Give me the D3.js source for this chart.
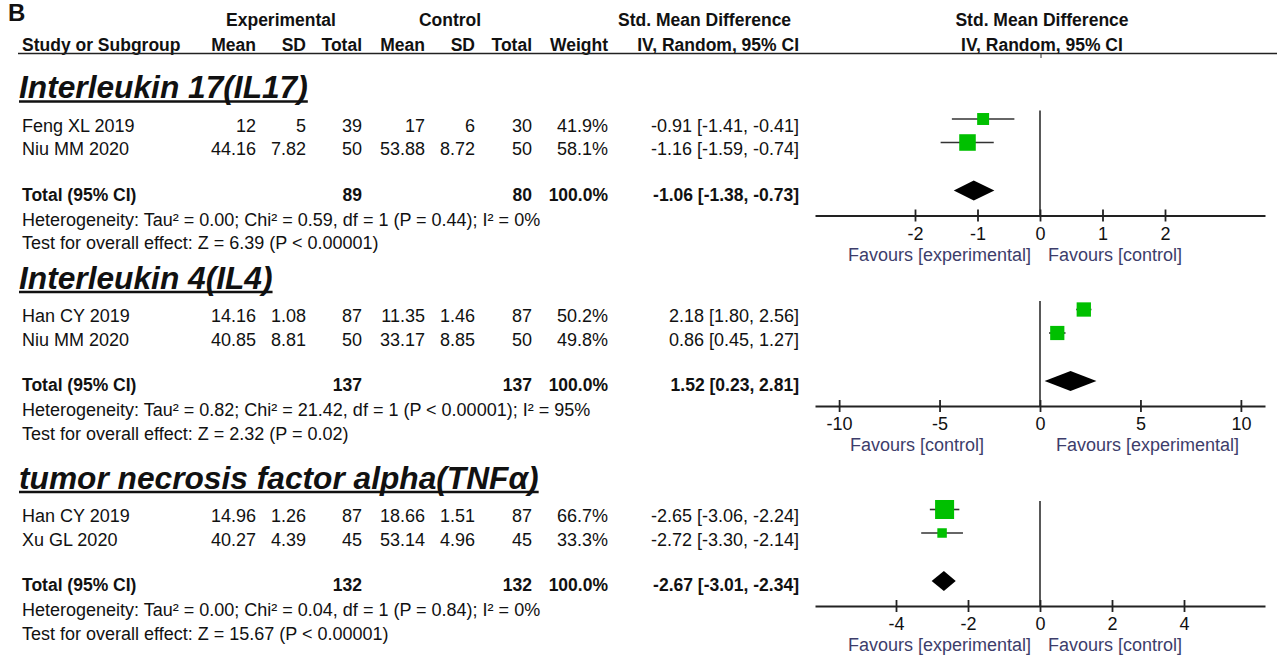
<!DOCTYPE html>
<html>
<head>
<meta charset="utf-8">
<script src="https://cdn.jsdelivr.net/npm/d3@7"></script>
<style>
  html, body { margin: 0; padding: 0; background: #fff; }
  svg { display: block; font-family: "Liberation Sans", Arial, sans-serif; }
</style>
</head>
<body>
<svg id="chart" width="1277" height="655"></svg>
<script>
// ---- Data: three cytokine subgroups, two studies each ----
const subgroups = ["Interleukin 17(IL17)", "Interleukin 4(IL4)", "tumor necrosis factor alpha(TNFα)"];
const studyNames = [["Feng XL 2019", "Niu MM 2020"], ["Han CY 2019", "Niu MM 2020"], ["Han CY 2019", "Xu GL 2020"]];
const expMean = [[12, 44.16], [14.16, 40.85], [14.96, 40.27]];
const expSD   = [[5, 7.82], [1.08, 8.81], [1.26, 4.39]];
const expN    = [[39, 50], [87, 50], [87, 45]];
const ctlMean = [[17, 53.88], [11.35, 33.17], [18.66, 53.14]];
const ctlSD   = [[6, 8.72], [1.46, 8.85], [1.51, 4.96]];
const ctlN    = [[30, 50], [87, 50], [87, 45]];
const weights = [[41.9, 58.1], [50.2, 49.8], [66.7, 33.3]];
const smd     = [[-0.91, -1.16], [2.18, 0.86], [-2.65, -2.72]];
const smdLow  = [[-1.41, -1.59], [1.80, 0.45], [-3.06, -3.30]];
const smdHigh = [[-0.41, -0.74], [2.56, 1.27], [-2.24, -2.14]];

const totalExpN  = [89, 137, 132];
const totalCtlN  = [80, 137, 132];
const totalSmd   = [-1.06, 1.52, -2.67];
const totalLow   = [-1.38, 0.23, -3.01];
const totalHigh  = [-0.73, 2.81, -2.34];

const heterogeneity = [
  "Heterogeneity: Tau² = 0.00; Chi² = 0.59, df = 1 (P = 0.44); I² = 0%",
  "Heterogeneity: Tau² = 0.82; Chi² = 21.42, df = 1 (P < 0.00001); I² = 95%",
  "Heterogeneity: Tau² = 0.00; Chi² = 0.04, df = 1 (P = 0.84); I² = 0%"
];
const overallEffect = [
  "Test for overall effect: Z = 6.39 (P < 0.00001)",
  "Test for overall effect: Z = 2.32 (P = 0.02)",
  "Test for overall effect: Z = 15.67 (P < 0.00001)"
];

const axisTicks  = [[-2, -1, 0, 1, 2], [-10, -5, 0, 5, 10], [-4, -2, 0, 2, 4]];
const axisLimit  = [3.6, 11.2, 6.25];
const favoursLeft  = ["Favours [experimental]", "Favours [control]", "Favours [experimental]"];
const favoursRight = ["Favours [control]", "Favours [experimental]", "Favours [control]"];

const headerTop    = ["Experimental", "Control"];
const headerCols   = ["Mean", "SD", "Total", "Mean", "SD", "Total", "Weight"];

// ---- Layout ----
const FS = 18;        // regular text
const FB = 17.5;      // bold text
const colRight = [256, 306, 362, 425, 475, 532, 608];
const ciRight = 799;
const nameX = 22;
const plotLeft = 815, plotRight = 1265;
const firstRow = [131.5, 322, 522];
const rowGap = 23.5;
const favOffset = [[-9, 8], [-56, 16], [-9, 8]];
const ink = "#111";
const favInk = "#3d3d6b";
const green = "#00c000";

const svg = d3.select("#chart");
const sizeScale = d3.scaleLinear().domain([0, 100]).range([0, 28.5]);
const fmt2 = d => d.toFixed(2);
const ciText = (m, l, h) => `${fmt2(m)} [${fmt2(l)}, ${fmt2(h)}]`;

function txt(g, x, y, s, opt = {}) {
  return g.append("text")
    .attr("x", x).attr("y", y)
    .attr("text-anchor", opt.anchor || "start")
    .attr("font-size", opt.size || (opt.bold ? FB : FS))
    .attr("font-weight", opt.bold ? "bold" : "normal")
    .attr("font-style", opt.italic ? "italic" : "normal")
    .attr("fill", opt.fill || ink)
    .text(s);
}

// ---- Panel label and table header ----
txt(svg, 8, 21, "B", { bold: true, size: 24 });
txt(svg, 281, 26, headerTop[0], { bold: true, anchor: "middle" });
txt(svg, 450, 26, headerTop[1], { bold: true, anchor: "middle" });
txt(svg, 618, 26, "Std. Mean Difference", { bold: true });
txt(svg, 1042, 26, "Std. Mean Difference", { bold: true, anchor: "middle" });

txt(svg, nameX, 51, "Study or Subgroup", { bold: true });
headerCols.forEach((h, i) => txt(svg, colRight[i], 51, h, { bold: true, anchor: "end" }));
txt(svg, ciRight, 51, "IV, Random, 95% CI", { bold: true, anchor: "end" });
txt(svg, 1042, 51, "IV, Random, 95% CI", { bold: true, anchor: "middle" });

svg.append("line").attr("x1", 18).attr("x2", 1277).attr("y1", 53.5).attr("y2", 53.5)
  .attr("stroke", "#222").attr("stroke-width", 1.6);
svg.append("line").attr("x1", 1041).attr("x2", 1041).attr("y1", 53.5).attr("y2", 58)
  .attr("stroke", "#333").attr("stroke-width", 1);

// ---- Subgroup panels ----
subgroups.forEach((name, p) => {
  const g = svg.append("g");
  const y0 = firstRow[p];
  const x = d3.scaleLinear().domain([-axisLimit[p], axisLimit[p]]).range([plotLeft, plotRight]);

  // underlined italic subgroup title
  const t = txt(g, 19, y0 - 33.5, name, { bold: true, italic: true, size: 31.7 });
  const bb = t.node().getBBox();
  g.append("line").attr("x1", bb.x).attr("x2", bb.x + bb.width)
    .attr("y1", y0 - 30).attr("y2", y0 - 30)
    .attr("stroke", ink).attr("stroke-width", 2.6);

  // study rows
  studyNames[p].forEach((s, i) => {
    const y = y0 + i * rowGap;
    txt(g, nameX, y, s);
    const vals = [expMean[p][i], expSD[p][i], expN[p][i], ctlMean[p][i], ctlSD[p][i], ctlN[p][i]];
    vals.forEach((v, k) => txt(g, colRight[k], y, String(v), { anchor: "end" }));
    txt(g, colRight[6], y, weights[p][i].toFixed(1) + "%", { anchor: "end" });
    txt(g, ciRight, y, ciText(smd[p][i], smdLow[p][i], smdHigh[p][i]), { anchor: "end" });
  });

  // pooled row
  const yt = y0 + 69;
  txt(g, nameX, yt, "Total (95% CI)", { bold: true });
  txt(g, colRight[2], yt, String(totalExpN[p]), { bold: true, anchor: "end" });
  txt(g, colRight[5], yt, String(totalCtlN[p]), { bold: true, anchor: "end" });
  txt(g, colRight[6], yt, "100.0%", { bold: true, anchor: "end" });
  txt(g, ciRight, yt, ciText(totalSmd[p], totalLow[p], totalHigh[p]), { bold: true, anchor: "end" });
  txt(g, nameX, y0 + 94, heterogeneity[p]);
  txt(g, nameX, y0 + 117.5, overallEffect[p]);

  // forest plot
  const axisY = y0 + 84;
  g.append("line").attr("x1", x(0)).attr("x2", x(0)).attr("y1", y0 - 21).attr("y2", axisY)
    .attr("stroke", "#222").attr("stroke-width", 1.5);

  studyNames[p].forEach((s, i) => {
    const cy = y0 + i * rowGap - 12.5;
    g.append("line").attr("x1", x(smdLow[p][i])).attr("x2", x(smdHigh[p][i]))
      .attr("y1", cy).attr("y2", cy).attr("stroke", "#333").attr("stroke-width", 1.6);
    const side = sizeScale(weights[p][i]);
    g.append("rect").attr("x", x(smd[p][i]) - side / 2).attr("y", cy - side / 2)
      .attr("width", side).attr("height", side).attr("fill", green);
  });

  const dy = yt - 10, dh = 10;
  g.append("path")
    .attr("d", `M${x(totalLow[p])},${dy}L${x(totalSmd[p])},${dy - dh}L${x(totalHigh[p])},${dy}L${x(totalSmd[p])},${dy + dh}Z`)
    .attr("fill", "#000");

  const ax = g.append("g").attr("transform", `translate(0,${axisY})`)
    .call(d3.axisBottom(x).tickValues(axisTicks[p]).tickSizeOuter(0).tickSizeInner(6)
      .tickFormat(d3.format("d")));
  ax.select(".domain").attr("stroke", "#222").attr("stroke-width", 2);
  ax.selectAll(".tick line").attr("y1", -6).attr("y2", 6).attr("stroke", "#222").attr("stroke-width", 1.8);
  ax.selectAll(".tick text").attr("y", 24).attr("dy", null)
    .attr("font-size", FS).attr("font-family", "Liberation Sans, Arial, sans-serif").attr("fill", ink)
    .text(d => d < 0 ? "-" + Math.abs(d) : String(d));

  txt(g, x(0) + favOffset[p][0], axisY + 45, favoursLeft[p], { anchor: "end", fill: favInk });
  txt(g, x(0) + favOffset[p][1], axisY + 45, favoursRight[p], { fill: favInk });
});
</script>
</body>
</html>
